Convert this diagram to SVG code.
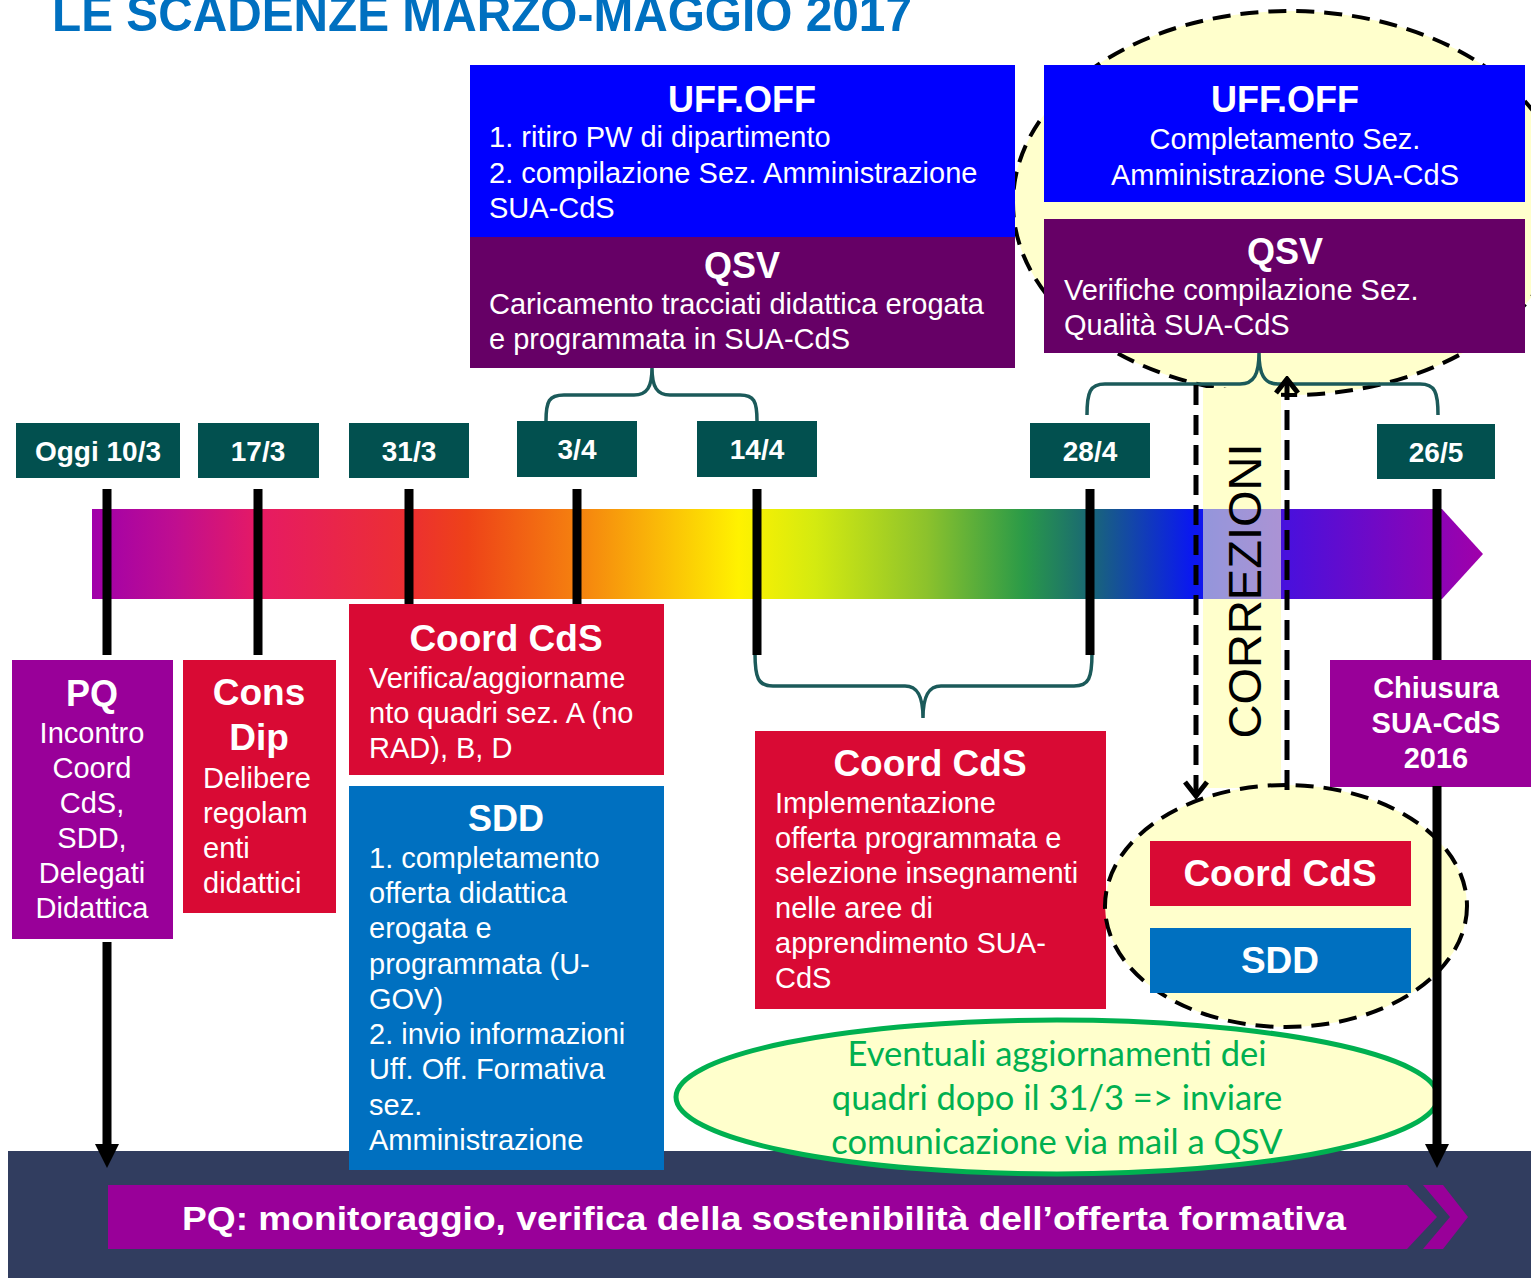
<svg xmlns="http://www.w3.org/2000/svg" width="1531" height="1278" viewBox="0 0 1531 1278">
<defs>
<linearGradient id="bar" gradientUnits="userSpaceOnUse" x1="92" y1="0" x2="1483" y2="0">
<stop offset="0" stop-color="#A000AA"/>
<stop offset="0.06" stop-color="#C00E90"/>
<stop offset="0.12" stop-color="#E61A64"/>
<stop offset="0.23" stop-color="#EC3030"/>
<stop offset="0.27" stop-color="#EE4218"/>
<stop offset="0.35" stop-color="#F5820F"/>
<stop offset="0.465" stop-color="#FFF200"/>
<stop offset="0.52" stop-color="#D4EA10"/>
<stop offset="0.6" stop-color="#8CC22C"/>
<stop offset="0.67" stop-color="#2A9A48"/>
<stop offset="0.715" stop-color="#1A6A72"/>
<stop offset="0.79" stop-color="#0A18F0"/>
<stop offset="0.86" stop-color="#4A10DC"/>
<stop offset="1" stop-color="#A000AA"/>
</linearGradient>
<marker id="tri" markerUnits="userSpaceOnUse" markerWidth="24" markerHeight="24" viewBox="0 0 24 24" refX="0" refY="12" orient="auto">
<path d="M0,0 L24,12 L0,24 Z" fill="#000"/>
</marker>
<marker id="chev" markerUnits="userSpaceOnUse" markerWidth="20" markerHeight="28" viewBox="0 0 20 28" refX="17" refY="14" orient="auto">
<path d="M3,3 L17,14 L3,25" fill="none" stroke="#000" stroke-width="5"/>
</marker>
<style>
text{font-family:"Liberation Sans",Arial,sans-serif;fill:#fff}
.b{font-weight:bold}
.h{font-size:36px;font-weight:bold;text-anchor:middle}
.t{font-size:29px}
.c{text-anchor:middle}
.d{font-size:28px;font-weight:bold;text-anchor:middle}
.date{fill:#02504F}
.tick{stroke:#000;stroke-width:9;fill:none}
.brace{stroke:#1B5A5A;stroke-width:3.5;fill:none}
.dash{stroke:#000;stroke-width:4;stroke-dasharray:18 10;fill:#FFFFCC}
.darr{stroke:#000;stroke-width:5;stroke-dasharray:20 10;fill:none}
.red{fill:#D90A34}
.blu{fill:#0070C0}
.pur{fill:#990099}
.dpur{fill:#660066}
.ub{fill:#0000FF}
.g{font-family:Lato,"Open Sans",sans-serif;font-size:34.5px;fill:#00B050;text-anchor:middle}
</style>
</defs>

<text x="52" y="31" class="b" style="font-size:50px;fill:#0070C0" textLength="860" lengthAdjust="spacingAndGlyphs">LE SCADENZE MARZO-MAGGIO 2017</text>

<ellipse cx="1290" cy="203" rx="277" ry="192" class="dash"/>

<g id="uffoff1">
<rect x="470" y="65" width="545" height="172" class="ub"/>
<text x="742" y="112" class="h">UFF.OFF</text>
<text x="489" y="147" class="t">1. ritiro PW di dipartimento</text>
<text x="489" y="183" class="t">2. compilazione Sez. Amministrazione</text>
<text x="489" y="218" class="t">SUA-CdS</text>
</g>
<g id="qsv1">
<rect x="470" y="237" width="545" height="131" class="dpur"/>
<text x="742" y="278" class="h">QSV</text>
<text x="489" y="314" class="t">Caricamento tracciati didattica erogata</text>
<text x="489" y="349" class="t">e programmata in SUA-CdS</text>
</g>
<g id="uffoff2">
<rect x="1044" y="65" width="481" height="137" class="ub"/>
<text x="1285" y="112" class="h">UFF.OFF</text>
<text x="1285" y="149" class="t c">Completamento Sez.</text>
<text x="1285" y="185" class="t c">Amministrazione SUA-CdS</text>
</g>
<g id="qsv2">
<rect x="1044" y="219" width="481" height="134" class="dpur"/>
<text x="1285" y="264" class="h">QSV</text>
<text x="1064" y="300" class="t">Verifiche compilazione Sez.</text>
<text x="1064" y="335" class="t">Qualità SUA-CdS</text>
</g>

<g id="band">
<rect x="1203" y="388" width="78" height="400" fill="#FFFFCC"/>
</g>

<g id="timeline">
<path d="M92,509 L1442,509 L1483,554 L1442,599 L92,599 Z" fill="url(#bar)"/>
<rect x="1203" y="509" width="78" height="90" fill="#FFFFCC" fill-opacity="0.55"/>
</g>

<g id="connectors">
<path class="brace" d="M546,421 C546,401 549,395 564,395 L634,395 C647,395 652,387 652,368 C652,387 657,395 670,395 L740,395 C754,395 757,401 757,421"/>
<path class="brace" d="M1087,415 C1087,392 1090,384 1105,384 L1240,384 C1254,384 1259,374 1259,353 C1259,374 1264,384 1278,384 L1420,384 C1435,384 1438,392 1438,415"/>
<path class="brace" d="M755,653 C755,678 758,686 773,686 L905,686 C918,686 923,697 923,718 C923,697 928,686 941,686 L1074,686 C1089,686 1092,678 1092,653"/>
<line class="tick" x1="107" y1="489" x2="107" y2="655"/>
<line class="tick" x1="258" y1="489" x2="258" y2="655"/>
<line class="tick" x1="409" y1="489" x2="409" y2="604"/>
<line class="tick" x1="577" y1="489" x2="577" y2="604"/>
<line class="tick" x1="757" y1="489" x2="757" y2="655"/>
<line class="tick" x1="1090" y1="489" x2="1090" y2="655"/>
<line class="tick" x1="1437" y1="489" x2="1437" y2="660"/>
</g>

<g id="d1"><rect x="16" y="423" width="164" height="55" class="date"/><text x="98" y="461" class="d">Oggi 10/3</text></g>
<g id="d2"><rect x="198" y="423" width="121" height="55" class="date"/><text x="258" y="461" class="d">17/3</text></g>
<g id="d3"><rect x="349" y="423" width="120" height="55" class="date"/><text x="409" y="461" class="d">31/3</text></g>
<g id="d4"><rect x="517" y="421" width="120" height="56" class="date"/><text x="577" y="459" class="d">3/4</text></g>
<g id="d5"><rect x="697" y="421" width="120" height="56" class="date"/><text x="757" y="459" class="d">14/4</text></g>
<g id="d6"><rect x="1030" y="423" width="120" height="55" class="date"/><text x="1090" y="461" class="d">28/4</text></g>
<g id="d7"><rect x="1377" y="424" width="118" height="55" class="date"/><text x="1436" y="462" class="d">26/5</text></g>

<g id="bottom">
<rect x="8" y="1151" width="1523" height="127" fill="#313D5F"/>
<path d="M108,1185 L1407,1185 L1437,1217 L1407,1249 L108,1249 Z" class="pur"/>
<path d="M1423,1185 L1443,1185 L1468,1217 L1443,1249 L1423,1249 L1450,1217 Z" class="pur"/>
<text x="764" y="1230" class="b c" style="font-size:34px" textLength="1164" lengthAdjust="spacingAndGlyphs">PQ: monitoraggio, verifica della sostenibilità dell’offerta formativa</text>
</g>

<g id="pq">
<rect x="12" y="660" width="161" height="279" class="pur"/>
<text x="92" y="706" class="h">PQ</text>
<text x="92" y="743" class="t c">Incontro</text>
<text x="92" y="778" class="t c">Coord</text>
<text x="92" y="813" class="t c">CdS,</text>
<text x="92" y="848" class="t c">SDD,</text>
<text x="92" y="883" class="t c">Delegati</text>
<text x="92" y="918" class="t c">Didattica</text>
</g>
<g id="consdip">
<rect x="183" y="660" width="153" height="253" class="red"/>
<text x="259" y="705" class="h" style="font-size:37px">Cons</text>
<text x="259" y="750" class="h" style="font-size:37px">Dip</text>
<text x="203" y="788" class="t">Delibere</text>
<text x="203" y="823" class="t">regolam</text>
<text x="203" y="858" class="t">enti</text>
<text x="203" y="893" class="t">didattici</text>
</g>
<g id="coord1">
<rect x="349" y="604" width="315" height="171" class="red"/>
<text x="506" y="651" class="h" style="font-size:37px">Coord CdS</text>
<text x="369" y="688" class="t">Verifica/aggiorname</text>
<text x="369" y="723" class="t">nto quadri sez. A (no</text>
<text x="369" y="758" class="t">RAD), B, D</text>
</g>
<g id="sdd1">
<rect x="349" y="786" width="315" height="384" class="blu"/>
<text x="506" y="831" class="h">SDD</text>
<text x="369" y="868" class="t">1. completamento</text>
<text x="369" y="903" class="t">offerta didattica</text>
<text x="369" y="938" class="t">erogata e</text>
<text x="369" y="974" class="t">programmata (U-</text>
<text x="369" y="1009" class="t">GOV)</text>
<text x="369" y="1044" class="t">2. invio informazioni</text>
<text x="369" y="1079" class="t">Uff. Off. Formativa</text>
<text x="369" y="1115" class="t">sez.</text>
<text x="369" y="1150" class="t">Amministrazione</text>
</g>
<g id="coord2">
<rect x="755" y="731" width="351" height="278" class="red"/>
<text x="930" y="776" class="h" style="font-size:37px">Coord CdS</text>
<text x="775" y="813" class="t">Implementazione</text>
<text x="775" y="848" class="t">offerta programmata e</text>
<text x="775" y="883" class="t">selezione insegnamenti</text>
<text x="775" y="918" class="t">nelle aree di</text>
<text x="775" y="953" class="t">apprendimento SUA-</text>
<text x="775" y="988" class="t">CdS</text>
</g>
<g id="chiusura">
<rect x="1330" y="660" width="201" height="127" class="pur"/>
<text x="1436" y="698" class="t b c">Chiusura</text>
<text x="1436" y="733" class="t b c">SUA-CdS</text>
<text x="1436" y="768" class="t b c">2016</text>
</g>

<g id="correzioni-group">
<ellipse cx="1286" cy="906" rx="181" ry="121" class="dash"/>
<rect x="1150" y="841" width="261" height="65" class="red"/>
<text x="1280" y="886" class="h" style="font-size:37px">Coord CdS</text>
<rect x="1150" y="928" width="261" height="65" class="blu"/>
<text x="1280" y="973" class="h" style="font-size:37px">SDD</text>
</g>

<g id="note">
<ellipse cx="1057" cy="1097" rx="381" ry="77" fill="#FFFFCC" stroke="#00B050" stroke-width="5"/>
<text x="1057" y="1066" class="g">Eventuali aggiornamenti dei</text>
<text x="1057" y="1110" class="g">quadri dopo il 31/3 =&gt; inviare</text>
<text x="1057" y="1154" class="g">comunicazione via mail a QSV</text>
</g>

<g id="arrows">
<line class="tick" x1="107" y1="942" x2="107" y2="1144" marker-end="url(#tri)"/>
<line class="tick" x1="1437" y1="786" x2="1437" y2="1144" marker-end="url(#tri)"/>
<line class="darr" x1="1196" y1="385" x2="1196" y2="796" marker-end="url(#chev)"/>
<line class="darr" x1="1287" y1="790" x2="1287" y2="379" marker-end="url(#chev)"/>
</g>

<text x="0" y="0" transform="translate(1261,591) rotate(-90)" class="c" style="font-size:47px;fill:#000">CORREZIONI</text>
</svg>
